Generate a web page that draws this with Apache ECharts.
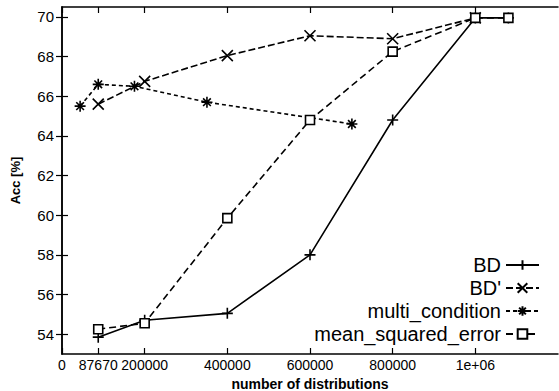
<!DOCTYPE html>
<html>
<head>
<meta charset="utf-8">
<script src="https://cdn.jsdelivr.net/npm/echarts@6/dist/echarts.min.js"></script>
<style>
  html, body { margin: 0; padding: 0; background: #fff; }
  #chart { width: 559px; height: 391px; }
</style>
</head>
<body>
<div id="chart"></div>
<script>
// data
const bdX = [87670, 200000, 400000, 600000, 800000, 1000000, 1080000]
const bdAcc = [53.85, 54.7, 55.05, 58.0, 64.8, 69.95, 69.95]

const bdPrimeX = [87670, 200000, 400000, 600000, 800000, 1000000]
const bdPrimeAcc = [65.6, 66.75, 68.05, 69.05, 68.9, 69.95]

const multiX = [43835, 87670, 175340, 350680, 701360]
const multiAcc = [65.5, 66.6, 66.5, 65.7, 64.6]

const mseX = [87670, 200000, 400000, 600000, 800000, 1000000, 1080000]
const mseAcc = [54.25, 54.55, 59.85, 64.8, 68.25, 69.95, 69.95]

const xTicks = [0, 87670, 200000, 400000, 600000, 800000, 1000000]
const yTicks = [54, 56, 58, 60, 62, 64, 66, 68, 70]

const zip = (xs, ys) => xs.map((x, i) => [x, ys[i]])

const FONT = 'Liberation Sans, Arial, sans-serif'
const PLUS = 'path://M0,5H10M5,0V10'
const CROSS = 'path://M1,1L9,9M9,1L1,9'
const STAR = 'path://M0,5H10M5,0V10M1.5,1.5L8.5,8.5M8.5,1.5L1.5,8.5'

const chart = echarts.init(document.getElementById('chart'), null, { renderer: 'svg' })

const axisLine = { show: true, lineStyle: { color: '#000', width: 1.5 } }
const tick = (vals) => ({ show: true, inside: true, length: 6, customValues: vals, lineStyle: { color: '#000', width: 1.2 } })

const xBase = { type: 'value', min: 0, max: 1200000, axisLine, splitLine: { show: false } }
const yBase = { type: 'value', min: 53, max: 70.5, axisLine, splitLine: { show: false } }

function lineSeries(name, data, symbol, size, dash, fill) {
    return {
        name,
        type: 'line',
        data,
        symbol,
        symbolSize: size,
        showAllSymbol: true,
        lineStyle: { color: '#000', width: 1.6, type: dash },
        itemStyle: { color: fill, borderColor: '#000', borderWidth: 1.6 },
        animation: false,
    }
}

chart.setOption({
    animation: false,
    grid: { left: 62, right: 1, top: 7, bottom: 37, containLabel: false, outerBoundsMode: 'none' },
    xAxis: [
        {
            ...xBase,
            position: 'bottom',
            name: 'number of distributions',
            nameLocation: 'middle',
            nameGap: 23,
            nameTextStyle: { color: '#000', fontFamily: FONT, fontSize: 14, fontWeight: 'bold' },
            axisTick: tick(xTicks),
            axisLabel: {
                customValues: xTicks,
                color: '#000',
                fontFamily: FONT,
                fontSize: 14,
                margin: 4,
                formatter: (v) => (v === 1000000 ? '1e+06' : String(v)),
            },
        },
        {
            ...xBase,
            position: 'top',
            axisTick: tick(xTicks),
            axisLabel: { show: false },
        },
    ],
    yAxis: [
        {
            ...yBase,
            position: 'left',
            name: 'Acc [%]',
            nameLocation: 'middle',
            nameGap: 40,
            nameRotate: 90,
            nameTextStyle: { color: '#000', fontFamily: FONT, fontSize: 13, fontWeight: 'bold' },
            axisTick: tick(yTicks),
            axisLabel: { customValues: yTicks, color: '#000', fontFamily: FONT, fontSize: 15, margin: 8 },
        },
        {
            ...yBase,
            position: 'right',
            axisTick: tick(yTicks),
            axisLabel: { show: false },
        },
    ],
    legend: {
        orient: 'vertical',
        right: 14,
        top: 250,
        align: 'right',
        itemWidth: 33,
        itemHeight: 12,
        itemGap: 3,
        textStyle: { color: '#000', fontFamily: FONT, fontSize: 20 },
        data: ['BD', "BD'", 'multi_condition', 'mean_squared_error'],
    },
    series: [
        lineSeries('BD', zip(bdX, bdAcc), PLUS, 11, 'solid', '#000'),
        lineSeries("BD'", zip(bdPrimeX, bdPrimeAcc), CROSS, 11, [7, 3], '#000'),
        lineSeries('multi_condition', zip(multiX, multiAcc), STAR, 11, [4, 3], '#000'),
        lineSeries('mean_squared_error', zip(mseX, mseAcc), 'rect', 9, [7, 4], '#fff'),
    ],
})
</script>
</body>
</html>
